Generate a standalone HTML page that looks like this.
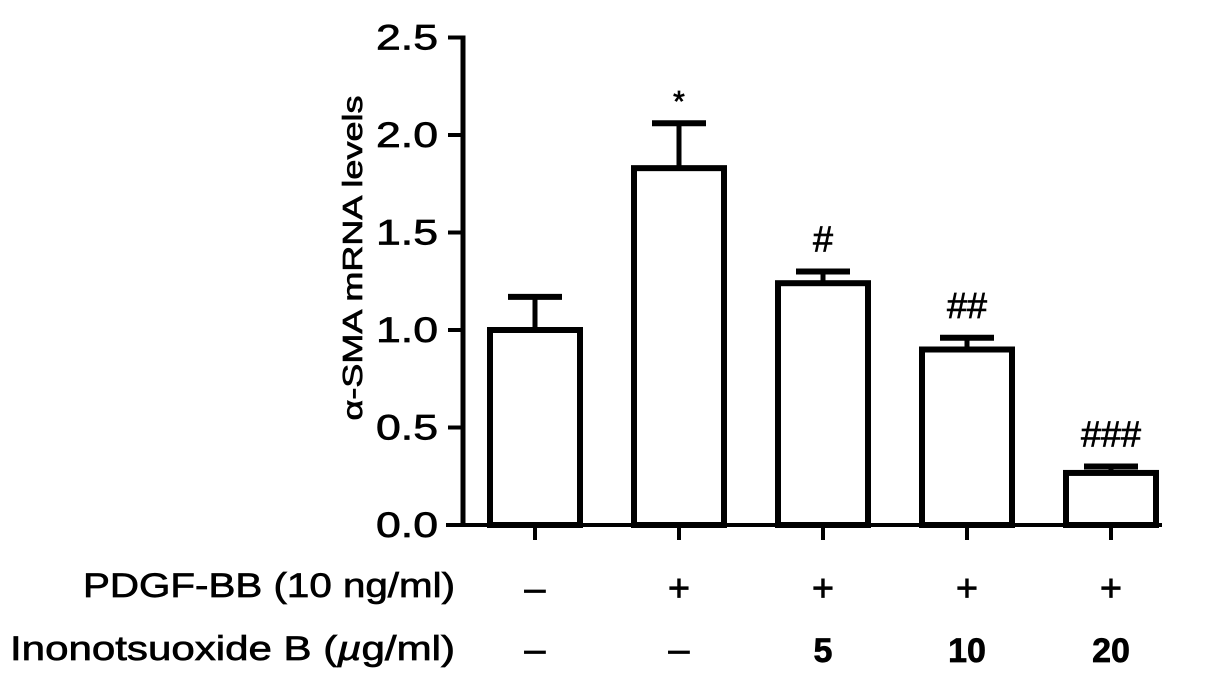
<!DOCTYPE html>
<html><head><meta charset="utf-8"><style>
body{margin:0;background:#fff;}
svg text{font-family:"Liberation Sans",Arial,sans-serif;fill:#000;stroke:#000;stroke-width:0.7;}
</style></head><body>
<svg width="1205" height="683" viewBox="0 0 1205 683" id="chart">
<text transform="translate(362,258) rotate(-90)" text-anchor="middle" font-size="28" textLength="325" lengthAdjust="spacingAndGlyphs">α-SMA mRNA levels</text>
<text x="83" y="597" font-size="34" textLength="372" lengthAdjust="spacingAndGlyphs">PDGF-BB (10 ng/ml)</text>
<text x="10" y="660" font-size="34" textLength="445" lengthAdjust="spacingAndGlyphs">Inonotsuoxide B (<tspan font-style="italic">µ</tspan>g/ml)</text>
</svg>
<script>
const categories = ["ctrl","pdgf","ib5","ib10","ib20"];
const values = [1.0, 1.83, 1.24, 0.90, 0.267];
const errors = [0.17, 0.23, 0.06, 0.06, 0.033];
const annotations = ["", "*", "#", "##", "###"];
const pdgfRow = ["–","+","+","+","+"];
const ibRow = ["–","–","5","10","20"];
const yTicks = [0, 0.5, 1.0, 1.5, 2.0, 2.5];
const yTickLabels = ["0.0","0.5","1.0","1.5","2.0","2.5"];

const NS = "http://www.w3.org/2000/svg";
const svg = document.getElementById("chart");
const y = v => 525 - v * 195;
const x = i => 535 + i * 144;
function mk(tag, attrs, parent) {
  const e = document.createElementNS(NS, tag);
  for (const k in attrs) e.setAttribute(k, attrs[k]);
  (parent || svg).appendChild(e);
  return e;
}
let ax = mk("line", {x1:463, y1:y(2.5)-2, x2:463, y2:y(0)+2, stroke:"#000","stroke-width":5});


let bx = mk("line", {x1:446, y1:y(0), x2:1162, y2:y(0), stroke:"#000","stroke-width":4});


yTicks.forEach((t, i) => {
  const tk = mk("line", {x1:448, y1:y(t), x2:463, y2:y(t), stroke:"#000","stroke-width":4});
  
  
  const tl = mk("text", {x:376, y:y(t)+12, "font-size":35, textLength:62, lengthAdjust:"spacingAndGlyphs"});
  tl.textContent = yTickLabels[i];
  
  
});
categories.forEach((c, i) => {
  const cx = x(i), top = y(values[i]), et = y(values[i] + errors[i]);
  const eb = mk("line", {x1:cx, y1:et, x2:cx, y2:top, stroke:"#000","stroke-width":5});
  
  
  const cap = mk("line", {x1:cx-27, y1:et, x2:cx+27, y2:et, stroke:"#000","stroke-width":6});
  
  
  const r = mk("rect", {x:cx-45, y:top, width:90, height:y(0)-top, fill:"#fff", stroke:"#000","stroke-width":6});
  
  
  const tk = mk("line", {x1:cx, y1:y(0), x2:cx, y2:y(0)+15, stroke:"#000","stroke-width":4});
  
  
  if (annotations[i]) {
    const star = annotations[i] === "*";
    const a = mk("text", {x:cx, y: star ? et-12 : et-20, "text-anchor":"middle", "font-size": star ? 30 : 36});
    a.textContent = annotations[i];
    
    
  }
  const p = mk("text", {x:cx, y:601, "text-anchor":"middle", "font-size":38});
  p.textContent = pdgfRow[i];
  
  
  const q = mk("text", {x:cx, y:662, "text-anchor":"middle", "font-size": ibRow[i]==="–" ? 38 : 34, "font-weight": ibRow[i]==="–" ? "normal" : "bold"});
  q.textContent = ibRow[i];
  
  
});
</script>
</body></html>
